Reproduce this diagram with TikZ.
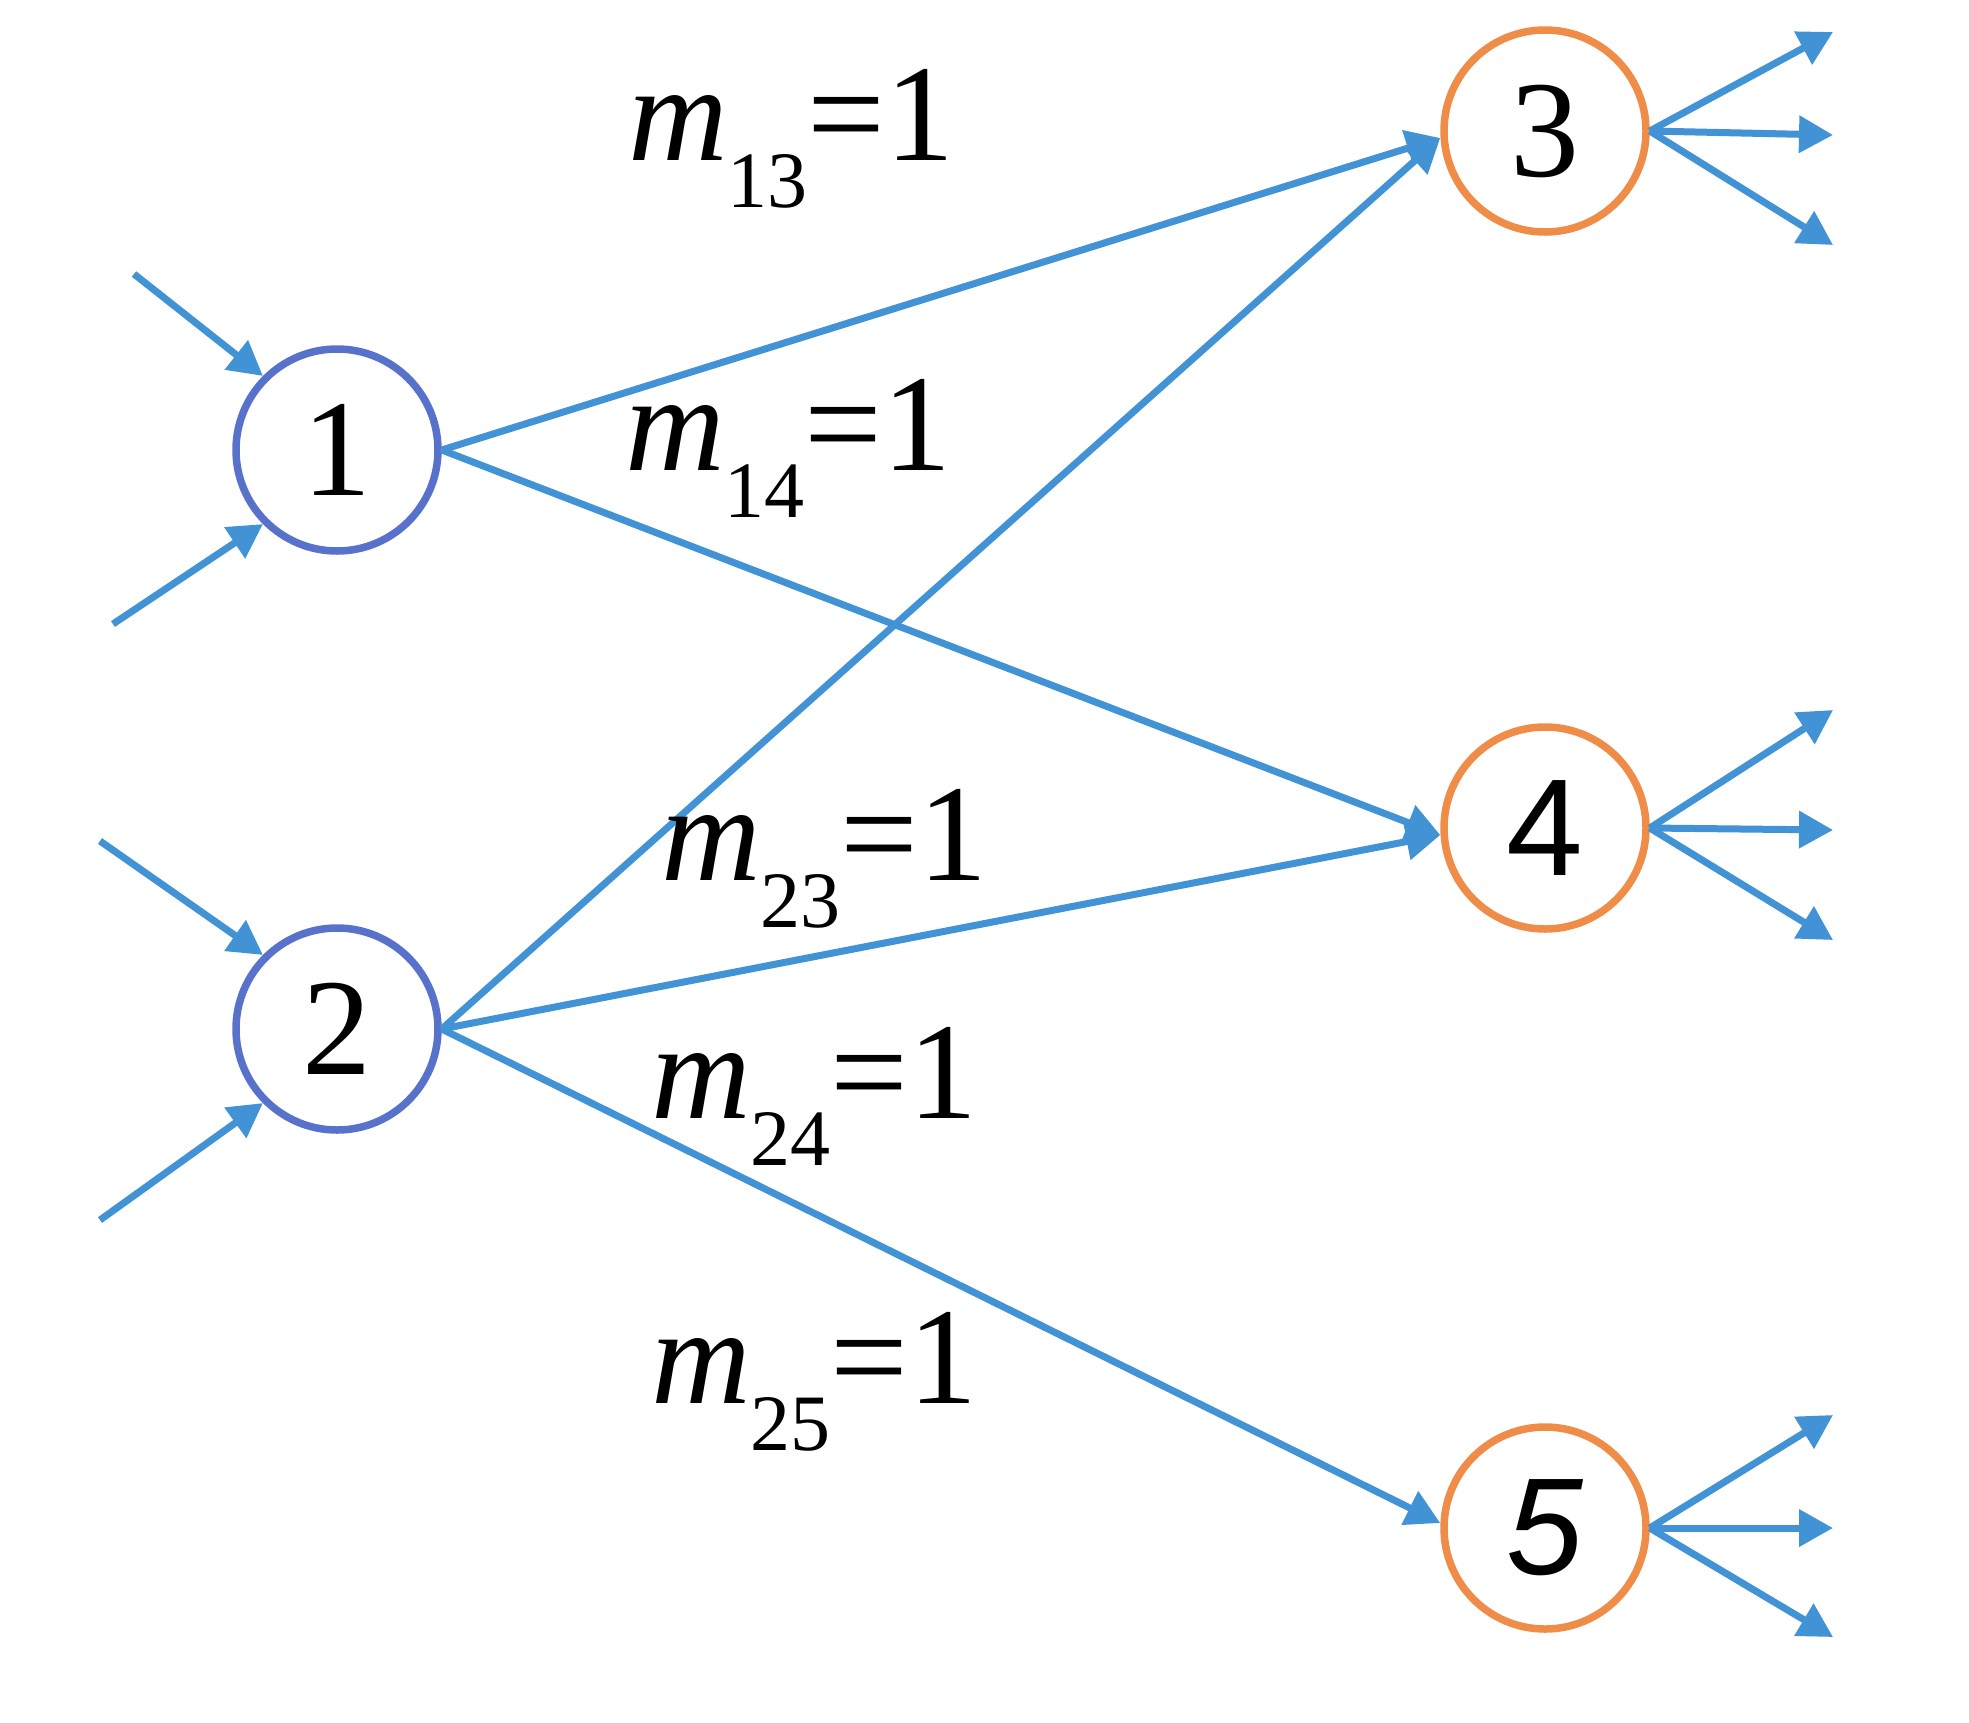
\documentclass[tikz,border=0pt]{standalone}
\usepackage{fontspec}
\setmainfont{Liberation Serif}
\newfontfamily\tms{Liberation Serif}
\newfontfamily\sansdigit{Liberation Sans}
\usetikzlibrary{arrows.meta}
\definecolor{arrowblue}{RGB}{66,146,214}
\definecolor{ringblue}{RGB}{88,114,204}
\definecolor{ringorange}{RGB}{238,140,72}
\newcommand{\bigfont}{\tms\fontsize{138}{150}\selectfont}
\newcommand{\subfont}{\tms\fontsize{80}{90}\selectfont}
\newcommand{\mlab}[1]{{\bigfont\itshape m}\raisebox{-47pt}{\subfont #1}{\bigfont =1}}
\begin{document}
\begin{tikzpicture}[x=1pt,y=-1pt,
  srcnode/.style={circle,draw=ringblue,line width=7.5pt,minimum size=202pt,inner sep=0pt,font=\bigfont},
  dstnode/.style={circle,draw=ringorange,line width=7.5pt,minimum size=202pt,inner sep=0pt,font=\bigfont},
  flow/.style={draw=arrowblue,line width=7pt,-{Triangle[length=34pt,width=36pt]}},
  lab/.style={anchor=base west,inner sep=0pt}]
\useasboundingbox (0,0) rectangle (1969,1722);
\fill[white] (0,0) rectangle (1969,1722);

\node[srcnode] (n1) at (337,450) {1};
\node[srcnode] (n2) at (337,1029) {2};
\node[dstnode] (n3) at (1545,131) {3};
\node[dstnode] (n4) at (1545,828) {\sansdigit 4};
\node[dstnode] (n5) at (1545,1528) {\sansdigit\itshape 5};

% incoming free ends
\coordinate (i1a) at (134,274);
\coordinate (i1b) at (113,624);
\coordinate (i2a) at (100,841);
\coordinate (i2b) at (100,1220);
\draw[flow] (i1a) -- (n1.135);
\draw[flow] (i1b) -- (n1.225);
\draw[flow] (i2a) -- (n2.135);
\draw[flow] (i2b) -- (n2.225);

% main edges
\draw[flow] (n1.east) -- ([yshift=-7pt]n3.west);
\draw[flow] (n1.east) -- ([yshift=-7pt]n4.west);
\draw[flow] (n2.east) -- ([yshift=-7pt]n3.west);
\draw[flow] (n2.east) -- ([yshift=-7pt]n4.west);
\draw[flow] (n2.east) -- ([yshift=5pt]n5.west);

% outgoing free ends
\coordinate (o3a) at (1833,32);
\coordinate (o3b) at (1833,135);
\coordinate (o3c) at (1833,245);
\coordinate (o4a) at (1833,710);
\coordinate (o4b) at (1833,830);
\coordinate (o4c) at (1833,940);
\coordinate (o5a) at (1833,1415);
\coordinate (o5b) at (1833,1528);
\coordinate (o5c) at (1833,1637);
\foreach \n in {3,4,5}{
  \draw[flow] (n\n.east) -- (o\n a);
  \draw[flow] (n\n.east) -- (o\n b);
  \draw[flow] (n\n.east) -- (o\n c);
}

% labels
\node[lab] (l13) at (628,160) {\mlab{13}};
\node[lab] (l14) at (625,470) {\mlab{14}};
\node[lab] (l23) at (661,880) {\mlab{23}};
\node[lab] (l24) at (651,1118) {\mlab{24}};
\node[lab] (l25) at (651,1403) {\mlab{25}};
\end{tikzpicture}
\end{document}
